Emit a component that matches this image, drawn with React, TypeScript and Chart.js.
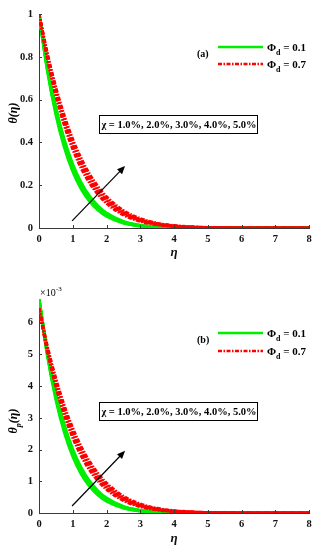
import React, { useEffect, useRef } from "react";
import { Chart, registerables } from "chart.js";
Chart.register(...registerables);

const eta = [0, 0.25, 0.5, 0.75, 1, 1.25, 1.5, 1.75, 2, 2.5, 3, 3.5, 4, 5, 6, 7, 8];
const chiValues = ["1.0%", "2.0%", "3.0%", "4.0%", "5.0%"];
const xTicks = [0, 1, 2, 3, 4, 5, 6, 7, 8];
const yTicksA = [0, 0.2, 0.4, 0.6, 0.8, 1];
const yTickLabelsA = ["0", "0.2", "0.4", "0.6", "0.8", "1"];
const yTicksB = [0, 1, 2, 3, 4, 5, 6];
const yTickLabelsB = ["0", "1", "2", "3", "4", "5", "6"];

// (a) theta(eta), Phi_d = 0.1, chi = 1..5 %
const thetaA_phi01_chi1 = [1, 0.7334, 0.5299, 0.3772, 0.2645, 0.1827, 0.1243, 0.0833, 0.055, 0.0229, 0.009, 0.0033, 0.0012, 0.0001, 0, 0, 0];
const thetaA_phi01_chi2 = [1, 0.739, 0.5379, 0.3858, 0.2725, 0.1897, 0.13, 0.0878, 0.0584, 0.0247, 0.0099, 0.0037, 0.0013, 0.0001, 0, 0, 0];
const thetaA_phi01_chi3 = [1, 0.7445, 0.5461, 0.3946, 0.2808, 0.1969, 0.136, 0.0926, 0.062, 0.0266, 0.0108, 0.0041, 0.0015, 0.0001, 0, 0, 0];
const thetaA_phi01_chi4 = [1, 0.7501, 0.5543, 0.4035, 0.2894, 0.2044, 0.1423, 0.0975, 0.0659, 0.0287, 0.0118, 0.0046, 0.0017, 0.0002, 0, 0, 0];
const thetaA_phi01_chi5 = [1, 0.7558, 0.5627, 0.4127, 0.2982, 0.2122, 0.1488, 0.1028, 0.0699, 0.031, 0.0129, 0.0051, 0.0019, 0.0002, 0, 0, 0];
// (a) theta(eta), Phi_d = 0.7
const thetaA_phi07_chi1 = [1, 0.7906, 0.6188, 0.4795, 0.3679, 0.2794, 0.2101, 0.1565, 0.1153, 0.0608, 0.0308, 0.015, 0.007, 0.0014, 0.0002, 0, 0];
const thetaA_phi07_chi2 = [1, 0.7965, 0.6281, 0.4904, 0.3791, 0.2901, 0.2198, 0.1649, 0.1225, 0.0656, 0.0337, 0.0167, 0.0079, 0.0016, 0.0003, 0, 0];
const thetaA_phi07_chi3 = [1, 0.8025, 0.6376, 0.5016, 0.3906, 0.3012, 0.2299, 0.1738, 0.13, 0.0707, 0.0369, 0.0185, 0.0089, 0.0018, 0.0003, 0, 0];
const thetaA_phi07_chi4 = [1, 0.8086, 0.6473, 0.513, 0.4025, 0.3127, 0.2405, 0.1832, 0.1381, 0.0762, 0.0404, 0.0205, 0.0101, 0.0021, 0.0004, 0.0001, 0];
const thetaA_phi07_chi5 = [1, 0.8146, 0.657, 0.5247, 0.4148, 0.3247, 0.2516, 0.193, 0.1466, 0.0821, 0.0442, 0.0228, 0.0113, 0.0025, 0.0005, 0.0001, 0];

// (b) theta_p(eta) in units of 1e-3, Phi_d = 0.1
const thetaB_phi01_chi1 = [6.75, 4.95, 3.577, 2.546, 1.785, 1.233, 0.839, 0.562, 0.371, 0.155, 0.061, 0.022, 0.008, 0.001, 0, 0, 0];
const thetaB_phi01_chi2 = [6.75, 4.988, 3.631, 2.604, 1.839, 1.28, 0.878, 0.593, 0.394, 0.167, 0.067, 0.025, 0.009, 0.001, 0, 0, 0];
const thetaB_phi01_chi3 = [6.75, 5.025, 3.686, 2.664, 1.895, 1.329, 0.918, 0.625, 0.419, 0.18, 0.073, 0.028, 0.01, 0.001, 0, 0, 0];
const thetaB_phi01_chi4 = [6.75, 5.063, 3.742, 2.724, 1.953, 1.38, 0.961, 0.658, 0.445, 0.194, 0.08, 0.031, 0.011, 0.001, 0, 0, 0];
const thetaB_phi01_chi5 = [6.75, 5.102, 3.798, 2.786, 2.013, 1.432, 1.004, 0.694, 0.472, 0.209, 0.087, 0.034, 0.013, 0.001, 0, 0, 0];
// (b) theta_p(eta) in units of 1e-3, Phi_d = 0.7
const thetaB_phi07_chi1 = [6.45, 5.099, 3.991, 3.093, 2.373, 1.802, 1.355, 1.009, 0.744, 0.392, 0.199, 0.097, 0.045, 0.009, 0.001, 0, 0];
const thetaB_phi07_chi2 = [6.45, 5.137, 4.051, 3.163, 2.445, 1.871, 1.418, 1.064, 0.79, 0.423, 0.217, 0.108, 0.051, 0.01, 0.002, 0, 0];
const thetaB_phi07_chi3 = [6.45, 5.176, 4.113, 3.235, 2.519, 1.943, 1.483, 1.121, 0.839, 0.456, 0.238, 0.119, 0.057, 0.012, 0.002, 0, 0];
const thetaB_phi07_chi4 = [6.45, 5.215, 4.175, 3.309, 2.596, 2.017, 1.551, 1.182, 0.891, 0.491, 0.261, 0.132, 0.065, 0.014, 0.003, 0.001, 0];
const thetaB_phi07_chi5 = [6.45, 5.254, 4.238, 3.384, 2.675, 2.094, 1.623, 1.245, 0.946, 0.53, 0.285, 0.147, 0.073, 0.016, 0.003, 0.001, 0];

const arrowA = [[0.98, 0.033], [2.55, 0.29]];
const arrowB = [[0.98, 0.22], [2.55, 1.96]];

const SERIF = '"Liberation Serif", "Times New Roman", serif';
const GREEN = "rgb(0,238,0)";
const RED = "rgb(255,0,0)";
const RED_DASH = [4, 1.5, 1.5, 1.5];

function makeDatasets(phi01: number[][], phi07: number[][]) {
  const mk = (vals: number[], color: string, dash: number[], label: string) => ({
    label,
    data: eta.map((e, i) => ({ x: e, y: vals[i] })),
    borderColor: color,
    backgroundColor: color,
    borderWidth: 3,
    borderDash: dash,
    pointRadius: 0,
    fill: false,
    cubicInterpolationMode: "monotone" as const,
  });
  const red = phi07.map((v, i) => mk(v, RED, RED_DASH, "Φd = 0.7, χ = " + chiValues[i]));
  const green = phi01.map((v, i) => mk(v, GREEN, [], "Φd = 0.1, χ = " + chiValues[i]));
  return [...red, ...green];
}

type PanelCfg = {
  id: string;
  panel: string;
  yTitle: { t: string; sub?: boolean }[];
  yTitleY: number;
  exponent: boolean;
  arrow: number[][];
  legendY: [number, number];
  panelY: number;
  box: [number, number, number, number];
};

function overlayPlugin(cfg: PanelCfg) {
  return {
    id: "overlay" + cfg.id,
    afterDraw(chart: any) {
      const ctx: CanvasRenderingContext2D = chart.ctx;
      const xs = chart.scales.x;
      const ys = chart.scales.y;
      ctx.save();
      // inward ticks
      ctx.strokeStyle = "#3a3a3a";
      ctx.lineWidth = 1;
      xs.ticks.forEach((t: any) => {
        const px = Math.round(xs.getPixelForValue(t.value)) + 0.5;
        ctx.beginPath();
        ctx.moveTo(px, ys.bottom);
        ctx.lineTo(px, ys.bottom - 3);
        ctx.stroke();
      });
      ys.ticks.forEach((t: any) => {
        const py = Math.round(ys.getPixelForValue(t.value)) + 0.5;
        ctx.beginPath();
        ctx.moveTo(xs.left, py);
        ctx.lineTo(xs.left + 3, py);
        ctx.stroke();
      });
      // arrow
      const [a, b] = cfg.arrow;
      const x1 = xs.getPixelForValue(a[0]);
      const y1 = ys.getPixelForValue(a[1]);
      const x2 = xs.getPixelForValue(b[0]);
      const y2 = ys.getPixelForValue(b[1]);
      const ang = Math.atan2(y2 - y1, x2 - x1);
      const hl = 8, hw = 3.5;
      ctx.strokeStyle = "#000";
      ctx.fillStyle = "#000";
      ctx.lineWidth = 1.2;
      ctx.beginPath();
      ctx.moveTo(x1, y1);
      ctx.lineTo(x2 - hl * 0.8 * Math.cos(ang), y2 - hl * 0.8 * Math.sin(ang));
      ctx.stroke();
      ctx.beginPath();
      ctx.moveTo(x2, y2);
      ctx.lineTo(x2 - hl * Math.cos(ang) + hw * Math.sin(ang), y2 - hl * Math.sin(ang) - hw * Math.cos(ang));
      ctx.lineTo(x2 - hl * Math.cos(ang) - hw * Math.sin(ang), y2 - hl * Math.sin(ang) + hw * Math.cos(ang));
      ctx.closePath();
      ctx.fill();
      // annotation box
      const [bx1, by1, bx2, by2] = cfg.box;
      ctx.fillStyle = "#fff";
      ctx.fillRect(bx1, by1, bx2 - bx1, by2 - by1);
      ctx.strokeStyle = "#000";
      ctx.lineWidth = 1;
      ctx.strokeRect(bx1 + 0.5, by1 + 0.5, bx2 - bx1, by2 - by1);
      ctx.fillStyle = "#000";
      ctx.font = "bold 10.5px " + SERIF;
      ctx.textBaseline = "middle";
      ctx.textAlign = "center";
      ctx.fillText("χ = " + chiValues.join(", "), (bx1 + bx2) / 2 + 1, (by1 + by2) / 2 + 1);
      // legend
      const lx1 = 218, lx2 = 263;
      const drawEntry = (y: number, color: string, dash: number[], val: string) => {
        ctx.strokeStyle = color;
        ctx.lineWidth = 2.5;
        ctx.setLineDash(dash);
        ctx.beginPath();
        ctx.moveTo(lx1, y);
        ctx.lineTo(lx2, y);
        ctx.stroke();
        ctx.setLineDash([]);
        ctx.fillStyle = "#000";
        ctx.textAlign = "left";
        ctx.textBaseline = "alphabetic";
        ctx.font = "bold 11px " + SERIF;
        let x = 267;
        ctx.fillText("Φ", x, y + 4);
        x += ctx.measureText("Φ").width;
        ctx.font = "bold 8px " + SERIF;
        ctx.fillText("d", x, y + 8);
        x += ctx.measureText("d").width;
        ctx.font = "bold 11px " + SERIF;
        ctx.fillText(" = " + val, x, y + 4);
      };
      drawEntry(cfg.legendY[0], GREEN, [], "0.1");
      drawEntry(cfg.legendY[1], RED, RED_DASH, "0.7");
      // panel label
      ctx.font = "bold 10px " + SERIF;
      ctx.textAlign = "left";
      ctx.textBaseline = "middle";
      ctx.fillText(cfg.panel, 197, cfg.panelY);
      // y title
      ctx.save();
      ctx.translate(14, cfg.yTitleY);
      ctx.rotate(-Math.PI / 2);
      const mainFont = "bold italic 12px " + SERIF;
      const subFont = "bold italic 8px " + SERIF;
      let total = 0;
      cfg.yTitle.forEach((s) => {
        ctx.font = s.sub ? subFont : mainFont;
        total += ctx.measureText(s.t).width;
      });
      let tx = -total / 2;
      ctx.textAlign = "left";
      ctx.textBaseline = "middle";
      cfg.yTitle.forEach((s) => {
        ctx.font = s.sub ? subFont : mainFont;
        ctx.fillText(s.t, tx, s.sub ? 5 : 0);
        tx += ctx.measureText(s.t).width;
      });
      ctx.restore();
      // exponent
      if (cfg.exponent) {
        ctx.font = "10px " + SERIF;
        ctx.textAlign = "left";
        ctx.textBaseline = "alphabetic";
        ctx.fillText("×10", 40, 21);
        ctx.font = "7px " + SERIF;
        ctx.fillText("-3", 56, 16);
      }
      ctx.restore();
    },
  };
}

function makeConfig(
  datasets: any[],
  yTicks: number[],
  yLabels: string[],
  yMax: number,
  padTop: number,
  xHeight: number,
  titlePadBottom: number,
  cfg: PanelCfg
): any {
  return {
    type: "line",
    data: { datasets },
    options: {
      animation: false,
      responsive: false,
      devicePixelRatio: 1,
      layout: { padding: { top: padTop, right: 12, left: 0, bottom: 0 } },
      plugins: { legend: { display: false }, tooltip: { enabled: false } },
      scales: {
        x: {
          type: "linear",
          min: 0,
          max: 8,
          afterBuildTicks: (s: any) => {
            s.ticks = xTicks.map((v) => ({ value: v }));
          },
          afterFit: (s: any) => {
            s.height = xHeight;
          },
          grid: { display: true, drawOnChartArea: false, drawTicks: false },
          border: { display: true, color: "#3a3a3a", width: 1 },
          ticks: {
            padding: 5,
            color: "#111",
            font: { family: SERIF, size: 10.5, weight: "bold" },
            callback: (v: any) => String(v),
          },
          title: {
            display: true,
            text: "η",
            color: "#111",
            font: { family: SERIF, size: 13, weight: "bold", style: "italic" },
            padding: { top: 0, bottom: titlePadBottom },
          },
        },
        y: {
          type: "linear",
          min: 0,
          max: yMax,
          afterBuildTicks: (s: any) => {
            s.ticks = yTicks.map((v) => ({ value: v }));
          },
          afterFit: (s: any) => {
            s.width = 39;
          },
          grid: { display: true, drawOnChartArea: false, drawTicks: false },
          border: { display: true, color: "#3a3a3a", width: 1 },
          ticks: {
            padding: 6,
            color: "#111",
            font: { family: SERIF, size: 10.5, weight: "bold" },
            callback: (v: any) => {
              const i = yTicks.indexOf(v);
              return i >= 0 ? yLabels[i] : "";
            },
          },
        },
      },
    },
    plugins: [overlayPlugin(cfg)],
  };
}

function Panel({ config }: { config: () => any }) {
  const ref = useRef<HTMLCanvasElement | null>(null);
  useEffect(() => {
    if (!ref.current) return;
    const chart = new Chart(ref.current, config());
    return () => chart.destroy();
  }, []);
  return <canvas ref={ref} width={321} height={275} style={{ display: "block", width: 321, height: 275 }} />;
}

export default function App() {
  const cfgA: PanelCfg = {
    id: "a",
    panel: "(a)",
    yTitle: [{ t: "θ(η)" }],
    yTitleY: 113,
    exponent: false,
    arrow: arrowA,
    legendY: [47, 64],
    panelY: 54,
    box: [99, 115, 257, 133],
  };
  const cfgB: PanelCfg = {
    id: "b",
    panel: "(b)",
    yTitle: [{ t: "θ" }, { t: "p", sub: true }, { t: "(η)" }],
    yTitleY: 146,
    exponent: true,
    arrow: arrowB,
    legendY: [58, 76],
    panelY: 65,
    box: [99, 127, 257, 145],
  };
  const dsA = () =>
    makeDatasets(
      [thetaA_phi01_chi1, thetaA_phi01_chi2, thetaA_phi01_chi3, thetaA_phi01_chi4, thetaA_phi01_chi5],
      [thetaA_phi07_chi1, thetaA_phi07_chi2, thetaA_phi07_chi3, thetaA_phi07_chi4, thetaA_phi07_chi5]
    );
  const dsB = () =>
    makeDatasets(
      [thetaB_phi01_chi1, thetaB_phi01_chi2, thetaB_phi01_chi3, thetaB_phi01_chi4, thetaB_phi01_chi5],
      [thetaB_phi07_chi1, thetaB_phi07_chi2, thetaB_phi07_chi3, thetaB_phi07_chi4, thetaB_phi07_chi5]
    );
  return (
    <div style={{ position: "absolute", left: 0, top: 0, width: 321, height: 550, background: "#fff" }}>
      <Panel config={() => makeConfig(dsA(), yTicksA, yTickLabelsA, 1, 14, 47, 15, cfgA)} />
      <Panel config={() => makeConfig(dsB(), yTicksB, yTickLabelsB, 6.75, 24, 37, 4, cfgB)} />
    </div>
  );
}
